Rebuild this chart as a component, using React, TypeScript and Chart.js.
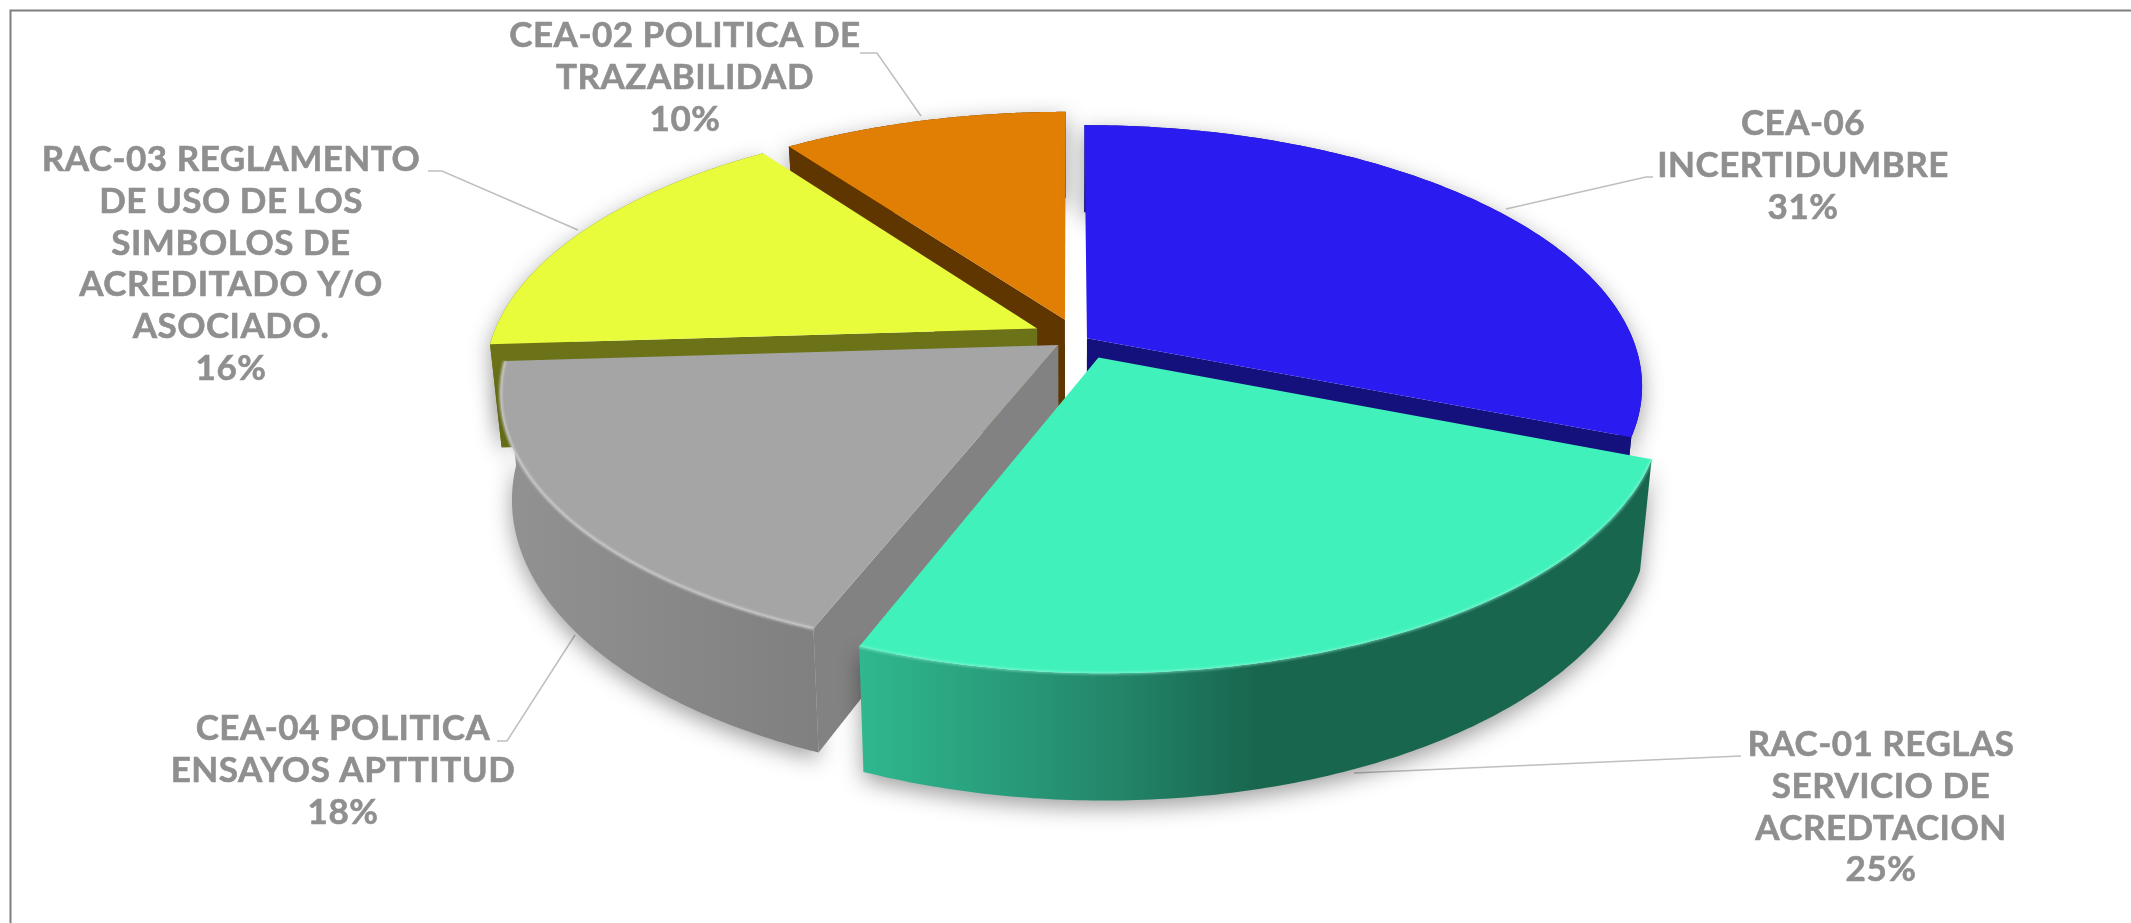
import React, { useEffect, useRef } from "react";
import { Chart, registerables } from "chart.js";

Chart.register(...registerables);

// ---- data ----
const categories = [
  "CEA-06 INCERTIDUMBRE",
  "RAC-01 REGLAS SERVICIO DE ACREDTACION",
  "CEA-04 POLITICA ENSAYOS APTTITUD",
  "RAC-03 REGLAMENTO DE USO DE LOS SIMBOLOS DE ACREDITADO Y/O ASOCIADO.",
  "CEA-02 POLITICA DE TRAZABILIDAD",
];
const values = [31, 25, 18, 16, 10];
const topColors = ["#2A1BF1", "#40F1BB", "#A5A5A5", "#E8FC3C", "#E07F03"];

// ---- style ----
const wallLight = ["#14107C", "#2FB88F", "#929292", "#6B7218", "#643802"];
const wallDark = ["#14107C", "#19664F", "#808080", "#6B7218", "#5F3500"];
const faceColors = ["#14107C", "#1E8A6B", "#828282", "#6B7218", "#5F3500"];
const rimColors = [null, "rgba(150,255,222,0.45)", "rgba(215,215,215,0.7)", null, null];
const explodeOffset = [11.3, 26, 8, 26.5, 29.4];
const explodeTurn = [8.5, -17, 7, 16.4, 12];
const drawOrder = [4, 3, 0, 2, 1];

const labelWrap = [
  ["CEA-06", "INCERTIDUMBRE"],
  ["RAC-01 REGLAS", "SERVICIO DE", "ACREDTACION"],
  ["CEA-04 POLITICA", "ENSAYOS APTTITUD"],
  ["RAC-03 REGLAMENTO", "DE USO DE LOS", "SIMBOLOS DE", "ACREDITADO Y/O", "ASOCIADO."],
  ["CEA-02 POLITICA DE", "TRAZABILIDAD"],
];
const labelCenterX = [1803, 1881, 343, 231, 685];
const labelFirstBaseline = [135, 756, 740, 171, 47];
const leaderPaths = [
  [[1653, 177], [1646, 177], [1506, 209]],
  [[1741, 756], [1354, 773]],
  [[497, 741], [507, 741], [575, 635]],
  [[428, 171], [442, 171], [578, 230]],
  [[860, 53], [877, 53], [921, 116]],
];

const RADIUS_SCALE = 547 / 327.3;
const TILT = 0.462;
const PERSPECTIVE = 0.18;
const DEPTH = 103;
const BOTTOM_SHRINK = 0.02;
const TEXT_COLOR = "#8F8F8F";
const FONT = 'bold 35px Lato, "Open Sans", sans-serif';
const LINE_STEP = 41.8;
const SAMPLES = 140;

const pie3dPlugin = {
  id: "pie3d",
  beforeDraw(chart: any) {
    const ctx = chart.ctx;
    ctx.save();
    ctx.fillStyle = "#FFFFFF";
    ctx.fillRect(0, 0, chart.width, chart.height);
    ctx.strokeStyle = "#7F7F7F";
    ctx.lineWidth = 2;
    ctx.beginPath();
    ctx.moveTo(chart.width, 10.5);
    ctx.lineTo(10.5, 10.5);
    ctx.lineTo(10.5, chart.height);
    ctx.stroke();
    // leader lines sit under the slices
    ctx.strokeStyle = "#BFBFBF";
    ctx.lineWidth = 1.5;
    leaderPaths.forEach((path) => {
      ctx.beginPath();
      path.forEach((p, k) => (k ? ctx.lineTo(p[0], p[1]) : ctx.moveTo(p[0], p[1])));
      ctx.stroke();
    });
    ctx.restore();
  },
  beforeDatasetsDraw(chart: any) {
    const ctx = chart.ctx;
    const arcs = chart.getDatasetMeta(0).data;

    const makeProjector = (arc: any, i: number) => {
      const R = arc.outerRadius * RADIUS_SCALE;
      const mid = (arc.startAngle + arc.endAngle) / 2 + (explodeTurn[i] * Math.PI) / 180;
      const off = (arc.options.offset || 0) / arc.outerRadius;
      const du = Math.cos(mid) * off;
      const dv = Math.sin(mid) * off;
      return (angle: number | null, z: number) => {
        const u = (angle === null ? 0 : Math.cos(angle)) + du;
        const v = (angle === null ? 0 : Math.sin(angle)) + dv;
        const s = 1 / (1 - PERSPECTIVE * v);
        return [
          arc.x + R * u * s * (1 - BOTTOM_SHRINK * z),
          arc.y + R * v * TILT * s + DEPTH * z * s,
        ];
      };
    };

    const poly = (pts: number[][]) => {
      ctx.beginPath();
      pts.forEach((p, k) => (k ? ctx.lineTo(p[0], p[1]) : ctx.moveTo(p[0], p[1])));
      ctx.closePath();
    };

    for (const i of drawOrder) {
      const arc = arcs[i];
      const P = makeProjector(arc, i);
      const a0 = arc.startAngle;
      const a1 = arc.endAngle;
      const angles: number[] = [];
      for (let k = 0; k <= SAMPLES; k++) angles.push(a0 + ((a1 - a0) * k) / SAMPLES);
      const topRim = angles.map((a) => P(a, 0));
      const botRim = angles.map((a) => P(a, 1));
      const tipTop = P(null, 0);
      const tipBot = P(null, 1);

      ctx.save();
      // outer wall with its soft shadow
      const xs = topRim.map((p) => p[0]);
      const minX = Math.min(...xs);
      const maxX = Math.max(...xs);
      const grad = ctx.createLinearGradient(minX, 0, maxX, 0);
      if (i === 1) {
        grad.addColorStop(0, wallLight[i]);
        grad.addColorStop(0.3, "#248A6D");
        grad.addColorStop(0.5, wallDark[i]);
        grad.addColorStop(1, wallDark[i]);
      } else {
        grad.addColorStop(0, wallLight[i]);
        grad.addColorStop(1, wallDark[i]);
      }
      ctx.shadowColor = "rgba(0,0,0,0.38)";
      ctx.shadowBlur = 22;
      ctx.shadowOffsetY = 7;
      ctx.fillStyle = grad;
      poly([...topRim, ...botRim.slice().reverse()]);
      ctx.fill();
      ctx.restore();

      // cut faces: only those that look towards the viewer
      ctx.fillStyle = faceColors[i];
      if (Math.sin(a0 - Math.PI / 2) > 0.01) {
        poly([tipTop, topRim[0], botRim[0], tipBot]);
        ctx.fill();
      }
      if (Math.sin(a1 + Math.PI / 2) > 0.01) {
        poly([tipTop, topRim[SAMPLES], botRim[SAMPLES], tipBot]);
        ctx.fill();
      }

      // top surface (colour comes from the arc element's resolved options)
      ctx.save();
      ctx.fillStyle = arc.options.backgroundColor;
      poly([tipTop, ...topRim]);
      ctx.fill();
      if (rimColors[i]) {
        ctx.filter = "blur(1px)";
        ctx.strokeStyle = rimColors[i];
        ctx.lineWidth = 3;
        ctx.lineJoin = "round";
        ctx.beginPath();
        topRim.forEach((p, k) => (k ? ctx.lineTo(p[0], p[1]) : ctx.moveTo(p[0], p[1])));
        ctx.stroke();
      }
      ctx.restore();
    }
    return false;
  },
  afterDraw(chart: any) {
    const ctx = chart.ctx;
    ctx.save();
    ctx.fillStyle = TEXT_COLOR;
    ctx.strokeStyle = TEXT_COLOR;
    ctx.lineWidth = 0.6;
    ctx.font = FONT;
    ctx.letterSpacing = "0.5px";
    ctx.textAlign = "center";
    ctx.textBaseline = "alphabetic";
    const total = values.reduce((a, b) => a + b, 0);
    labelWrap.forEach((lines, i) => {
      const all = [...lines, `${Math.round((values[i] / total) * 100)}%`];
      all.forEach((line, k) => {
        const y = labelFirstBaseline[i] + k * LINE_STEP;
        ctx.fillText(line, labelCenterX[i], y);
        ctx.strokeText(line, labelCenterX[i], y);
      });
    });
    ctx.restore();
  },
};

export default function App() {
  const ref = useRef<HTMLCanvasElement | null>(null);
  useEffect(() => {
    const chart = new Chart(ref.current as HTMLCanvasElement, {
      type: "pie",
      data: {
        labels: categories,
        datasets: [
          {
            data: values,
            backgroundColor: topColors,
            borderWidth: 0,
            offset: explodeOffset,
          },
        ],
      },
      options: {
        responsive: false,
        animation: false,
        layout: { padding: { left: 9, right: 0, top: 0, bottom: 239 } },
        plugins: { legend: { display: false }, tooltip: { enabled: false } },
      },
      plugins: [pie3dPlugin],
    } as any);
    return () => chart.destroy();
  }, []);
  return (
    <canvas
      ref={ref}
      width={2131}
      height={923}
      style={{ position: "fixed", left: 0, top: 0, width: 2131, height: 923, display: "block" }}
    />
  );
}
